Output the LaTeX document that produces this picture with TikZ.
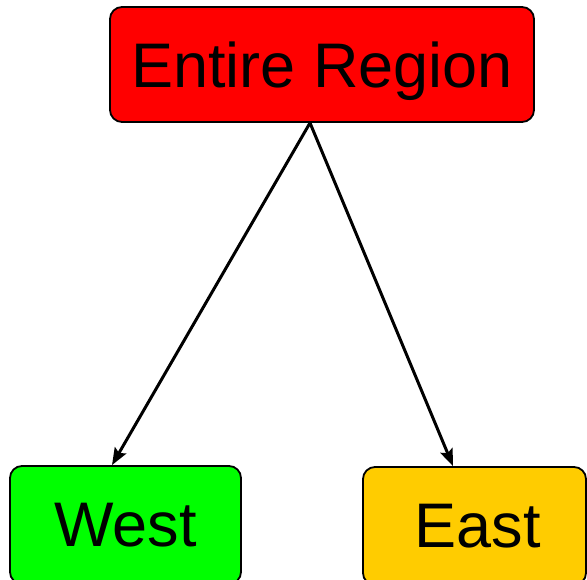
\documentclass[tikz,border=0pt]{standalone}
\usepackage{fontspec}
\setmainfont{Liberation Sans}
\usetikzlibrary{arrows.meta}
\definecolor{boxred}{HTML}{FF0000}
\definecolor{boxgreen}{HTML}{00FF00}
\definecolor{boxyellow}{HTML}{FFCC00}
\begin{document}
\begin{tikzpicture}[x=1pt,y=-1pt,
  box/.style={draw=black,line width=1.8pt,rounded corners=12pt,inner sep=0pt,
    text depth=0pt,font=\fontsize{63}{75}\selectfont},
  link/.style={line width=3pt,-{Stealth[length=17pt,width=13pt,inset=3pt]}}]
\useasboundingbox (0,0) rectangle (587,580);
\node[box,fill=boxred,minimum width=424pt,minimum height=115pt] (top) at (322,64.5) {Entire Region};
\node[box,fill=boxgreen,minimum width=231pt,minimum height=118pt] (west) at (125.5,525) {West};
\node[box,fill=boxyellow,minimum width=223pt,minimum height=118pt,text width=223pt,align=center] (east) at (474.5,526) {\hspace*{6pt}East};
\coordinate (src) at ([xshift=-12pt]top.south);
\draw[link] (src) -- ([xshift=-13.5pt]west.north);
\draw[link] (src) -- ([xshift=-21.5pt]east.north);
\end{tikzpicture}
\end{document}
